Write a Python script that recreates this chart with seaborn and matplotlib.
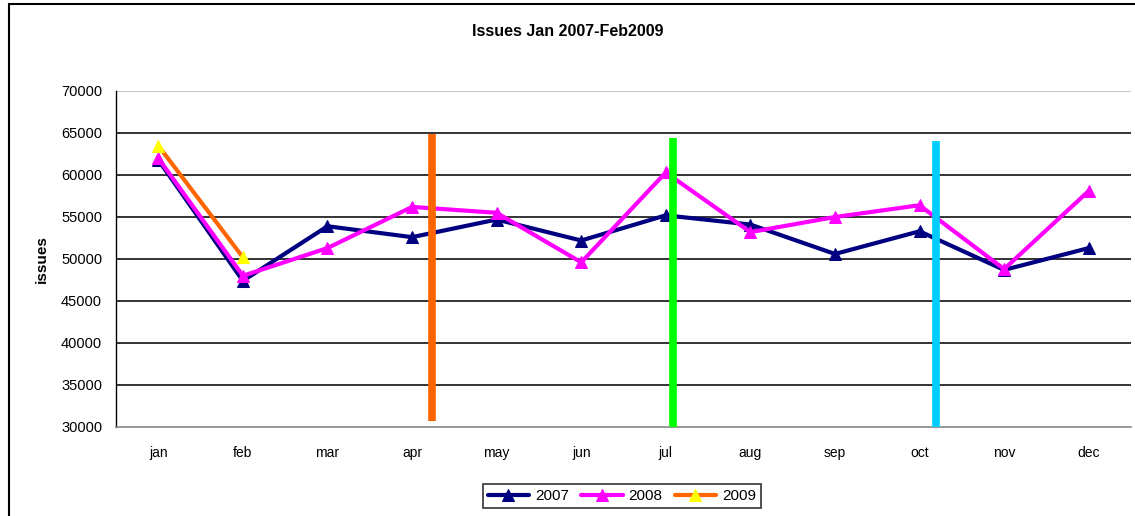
import numpy as np
import pandas as pd
import seaborn as sns
import matplotlib.pyplot as plt
from matplotlib.patches import Rectangle

months = ["jan", "feb", "mar", "apr", "may", "jun", "jul", "aug", "sep", "oct", "nov", "dec"]
issues_2007 = [61800, 47400, 53900, 52600, 54700, 52200, 55200, 54100, 50600, 53300, 48700, 51300]
issues_2008 = [62000, 48000, 51300, 56200, 55500, 49600, 60300, 53200, 55000, 56400, 48800, 58100]
issues_2009 = [63500, 50200]

# hand-drawn marker bars on the original chart (x in month units)
bar_x = [3.24, 6.08, 9.2]
bar_low = [30700, 30000, 30000]
bar_high = [64900, 64400, 64100]
bar_colors = ["#FF6600", "#00FF00", "#00CCFF"]

sns.set_style("white")
plt.rcParams["font.family"] = ["Liberation Sans", "DejaVu Sans"]
plt.rcParams["text.color"] = "black"
plt.rcParams["axes.labelcolor"] = "black"
plt.rcParams["xtick.color"] = "black"
plt.rcParams["ytick.color"] = "black"

fig = plt.figure(figsize=(11.35, 5.16), dpi=100)
ax = fig.add_axes([116 / 1135, 1 - 427 / 516, 1015 / 1135, 336 / 516])

x = np.arange(len(months))
df07 = pd.DataFrame({"m": x, "v": issues_2007})
df08 = pd.DataFrame({"m": x, "v": issues_2008})
df09 = pd.DataFrame({"m": x[:len(issues_2009)], "v": issues_2009})

sns.lineplot(data=df07, x="m", y="v", ax=ax, color="#000080", lw=3, marker="^",
             markersize=8, markeredgecolor="#000080", label="2007", zorder=3)
sns.lineplot(data=df08, x="m", y="v", ax=ax, color="#FF00FF", lw=3, marker="^",
             markersize=8, markeredgecolor="#FF00FF", label="2008", zorder=4)
sns.lineplot(data=df09, x="m", y="v", ax=ax, color="#FF6600", lw=3, marker="^",
             markersize=8, markerfacecolor="#FFFF00", markeredgecolor="#FFFF00",
             label="2009", zorder=5)

for bx, lo, hi, c in zip(bar_x, bar_low, bar_high, bar_colors):
    ax.plot([bx, bx], [lo, hi], color=c, lw=5.5, solid_capstyle="butt", zorder=6)

ax.set_xlim(-0.5, len(months) - 0.5)
ax.set_ylim(30000, 70000)
ax.set_yticks(range(30000, 70001, 5000))
for yv in range(35000, 66000, 5000):
    ax.axhline(yv, color="#333333", lw=1.4, zorder=1)
ax.axhline(70000, color="#BBBBBB", lw=1.2, zorder=1)

ax.set_xticks(x)
ax.set_xticklabels(months)
ax.set_xticks(np.arange(-0.5, len(months)), minor=True)
ax.tick_params(axis="x", which="major", length=0, pad=14, labelsize=10)
ax.tick_params(axis="x", which="minor", length=6, width=1, color="black", direction="out")
ax.tick_params(axis="y", length=6, width=1, color="black", direction="out", labelsize=10.5, pad=4)

for side in ["top", "right"]:
    ax.spines[side].set_visible(False)
ax.spines["left"].set_color("black")
ax.spines["left"].set_linewidth(1)
ax.spines["bottom"].set_color("#888888")
ax.spines["bottom"].set_linewidth(1.2)

ax.set_xlabel("")
ax.set_ylabel("issues", fontsize=11, fontweight="bold", labelpad=9)
fig.text(0.5, 1 - 32 / 516, "Issues Jan 2007-Feb2009", ha="center", va="center",
         fontsize=11.5, fontweight="bold")

leg = ax.legend(loc="center", bbox_to_anchor=(622 / 1135, 1 - 496 / 516),
                bbox_transform=fig.transFigure, ncol=3, frameon=True, fancybox=False,
                fontsize=11, handlelength=2.7, columnspacing=0.8, handletextpad=0.4,
                borderpad=0.3, edgecolor="black")
leg.get_frame().set_linewidth(1.2)

fig.patches.append(Rectangle((9 / 1135, -0.1), 1.2, 1.1 - 4 / 516, transform=fig.transFigure,
                             fill=False, edgecolor="black", lw=1.5))

fig.savefig("out.png", dpi=100)
